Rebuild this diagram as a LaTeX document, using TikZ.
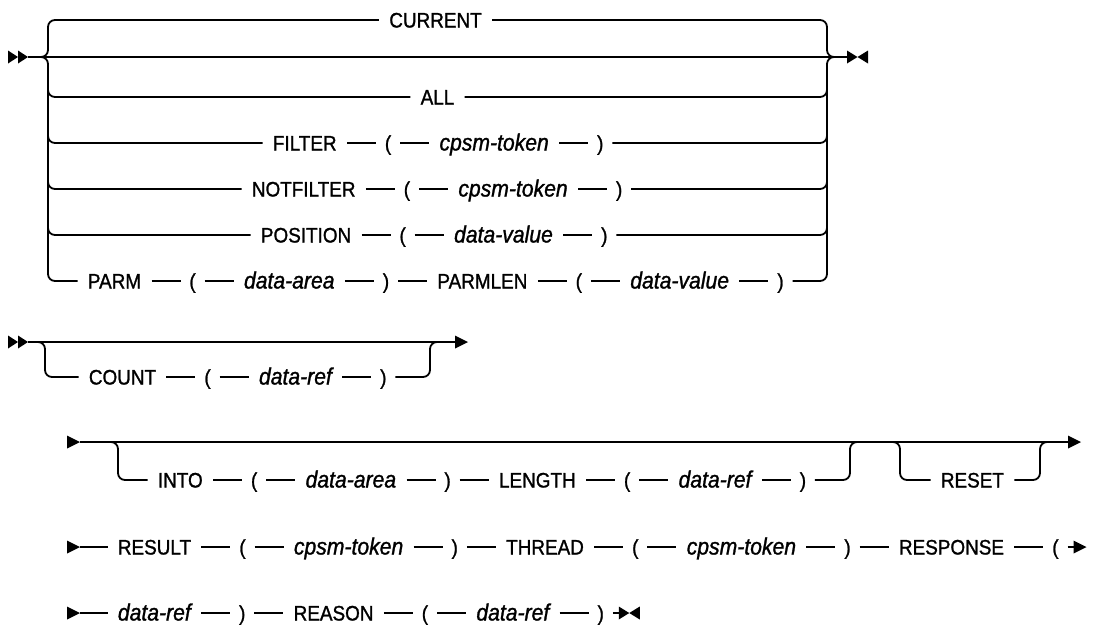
\documentclass[tikz,border=0pt]{standalone}
\usepackage{fontspec}
\setmainfont{Liberation Sans}[FakeBold=1.2,FakeStretch=0.9]
\usetikzlibrary{positioning}
\tikzset{
  dblstart/.pic={\fill (0,-6.5) -- (10,0) -- (0,6.5) -- cycle; \fill (10,-6.5) -- (20,0) -- (10,6.5) -- cycle;},
  arrowmark/.pic={\fill (0,-6.5) -- (13,0) -- (0,6.5) -- cycle;},
  endmark/.pic={\fill (0,-6.5) -- (10.5,0) -- (0,6.5) -- cycle; \fill (21,-6.5) -- (10.5,0) -- (21,6.5) -- cycle;}
}
\begin{document}
\begin{tikzpicture}[x=1pt,y=-1pt,line width=1.8pt,
  kw/.style={font=\fontsize{21}{24}\selectfont,inner xsep=9.5pt,inner ysep=0pt,text height=15pt,text depth=0pt},
  var/.style={kw,font=\fontsize{23.5}{26}\selectfont\itshape},
  pp/.style={kw,inner xsep=8pt},
  rail/.style={rounded corners=7pt},
  nx/.style={right=29pt of #1}]
\useasboundingbox (0,0) rectangle (1099,625);
% ---------- section 1
\pic at (8,57) {dblstart};
\coordinate (s1) at (28,57);
\coordinate (e1) at (847,57);
\draw (s1) -- (e1);
\pic at (e1) {endmark};
\node[kw] (cur) at (435.5,20) {CURRENT};
\node[kw] (all) at (437.5,97) {ALL};
\node[kw,anchor=west] (fa) at (262.5,143) {FILTER};
\node[pp,nx=fa] (fb) {(};
\node[var,nx=fb] (fc) {cpsm-token};
\node[pp,nx=fc] (fd) {)};
\draw (fa) -- (fb) -- (fc) -- (fd);
\node[kw,anchor=west] (na) at (241.5,189) {NOTFILTER};
\node[pp,nx=na] (nb) {(};
\node[var,nx=nb] (nc) {cpsm-token};
\node[pp,nx=nc] (nd) {)};
\draw (na) -- (nb) -- (nc) -- (nd);
\node[kw,anchor=west] (oa) at (250.5,235) {POSITION};
\node[pp,nx=oa] (ob) {(};
\node[var,nx=ob] (oc) {data-value};
\node[pp,nx=oc] (od) {)};
\draw (oa) -- (ob) -- (oc) -- (od);
\node[kw,anchor=west] (pa) at (77.5,281) {PARM};
\node[pp,nx=pa] (pb) {(};
\node[var,nx=pb] (pc) {data-area};
\node[pp,nx=pc] (pd) {)};
\node[kw,nx=pd] (pe) {PARMLEN};
\node[pp,nx=pe] (pf) {(};
\node[var,nx=pf] (pg) {data-value};
\node[pp,nx=pg] (ph) {)};
\draw (pa) -- (pb) -- (pc) -- (pd) -- (pe) -- (pf) -- (pg) -- (ph);
% left rails
\draw[rail] (38,57) -- (48,57) -- (48,20) -- (cur);
\draw[rail] (38,57) -- (48,57) -- (48,281) -- (pa);
\draw[rail] (48,80) -- (48,97) -- (all);
\draw[rail] (48,120) -- (48,143) -- (fa);
\draw[rail] (48,170) -- (48,189) -- (na);
\draw[rail] (48,215) -- (48,235) -- (oa);
% right rails
\draw[rail] (cur) -- (827,20) -- (827,57) -- (837,57);
\draw[rail] (ph) -- (827,281) -- (827,57) -- (837,57);
\draw[rail] (all) -- (827,97) -- (827,80);
\draw[rail] (fd) -- (827,143) -- (827,120);
\draw[rail] (nd) -- (827,189) -- (827,170);
\draw[rail] (od) -- (827,235) -- (827,215);
% ---------- section 2
\pic at (8,342) {dblstart};
\coordinate (s2) at (28,342);
\coordinate (a2) at (455,342);
\draw (s2) -- (a2);
\pic at (a2) {arrowmark};
\node[kw,anchor=west] (ca) at (78.5,377) {COUNT};
\node[pp,nx=ca] (cb) {(};
\node[var,nx=cb] (cc) {data-ref};
\node[pp,nx=cc] (cd) {)};
\draw (ca) -- (cb) -- (cc) -- (cd);
\draw[rail] (36,342) -- (45,342) -- (45,377) -- (ca);
\draw[rail] (cd) -- (430,377) -- (430,342) -- (440,342);
% ---------- section 3
\pic at (67,442) {arrowmark};
\coordinate (s3) at (80,442);
\coordinate (a3) at (1068,442);
\draw (s3) -- (a3);
\pic at (a3) {arrowmark};
\node[kw,anchor=west] (ia) at (147.5,480) {INTO};
\node[pp,nx=ia] (ib) {(};
\node[var,nx=ib] (ic) {data-area};
\node[pp,nx=ic] (id) {)};
\node[kw,nx=id] (ie) {LENGTH};
\node[pp,nx=ie] (if) {(};
\node[var,nx=if] (ig) {data-ref};
\node[pp,nx=ig] (ih) {)};
\draw (ia) -- (ib) -- (ic) -- (id) -- (ie) -- (if) -- (ig) -- (ih);
\draw[rail] (108,442) -- (118,442) -- (118,480) -- (ia);
\draw[rail] (ih) -- (850,480) -- (850,442) -- (860,442);
\node[kw,anchor=west] (ra) at (930.5,480) {RESET};
\draw[rail] (890,442) -- (900,442) -- (900,480) -- (ra);
\draw[rail] (ra) -- (1040,480) -- (1040,442) -- (1050,442);
% ---------- section 4
\pic at (67,547) {arrowmark};
\coordinate (s4) at (80,547);
\node[kw,anchor=west] (qa) at (107.5,547) {RESULT};
\node[pp,nx=qa] (qb) {(};
\node[var,nx=qb] (qc) {cpsm-token};
\node[pp,nx=qc] (qd) {)};
\node[kw,nx=qd] (qe) {THREAD};
\node[pp,nx=qe] (qf) {(};
\node[var,nx=qf] (qg) {cpsm-token};
\node[pp,nx=qg] (qh) {)};
\node[kw,nx=qh] (qi) {RESPONSE};
\node[pp,nx=qi] (qj) {(};
\coordinate[right=6pt of qj] (a4);
\draw (s4) -- (qa) -- (qb) -- (qc) -- (qd) -- (qe) -- (qf) -- (qg) -- (qh) -- (qi) -- (qj) -- (a4);
\pic at (a4) {arrowmark};
% ---------- section 5
\pic at (67,613) {arrowmark};
\coordinate (s5) at (80,613);
\node[var,anchor=west] (da) at (107.5,613) {data-ref};
\node[pp,nx=da] (db) {)};
\node[kw,nx=db] (dc) {REASON};
\node[pp,nx=dc] (dd) {(};
\node[var,nx=dd] (de) {data-ref};
\node[pp,nx=de] (df) {)};
\coordinate[right=6pt of df] (e5);
\draw (s5) -- (da) -- (db) -- (dc) -- (dd) -- (de) -- (df) -- (e5);
\pic at (e5) {endmark};
\end{tikzpicture}
\end{document}
